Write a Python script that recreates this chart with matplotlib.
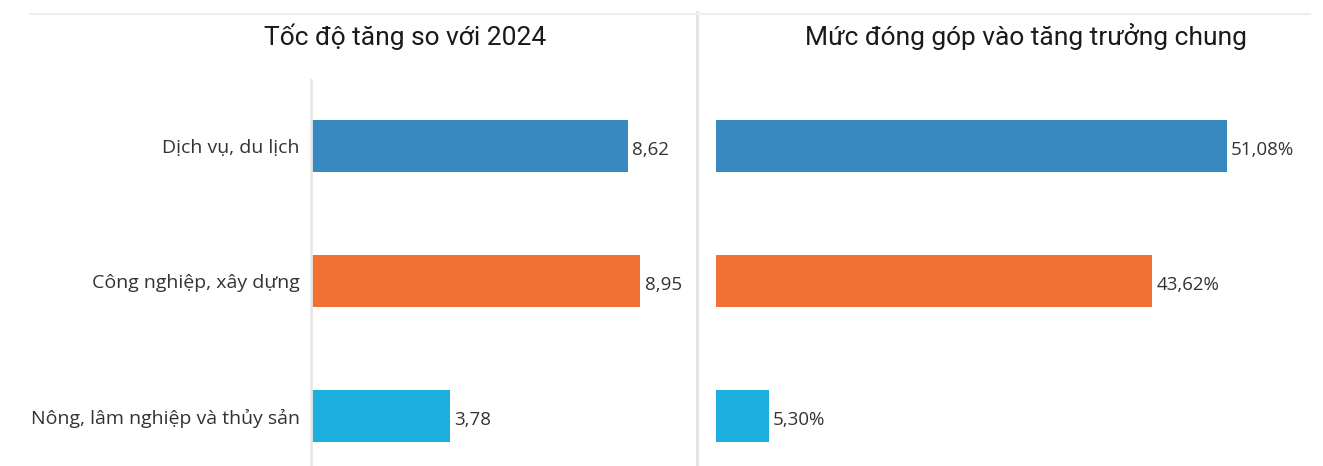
import matplotlib
matplotlib.use("Agg")
import matplotlib.pyplot as plt
from matplotlib.lines import Line2D

categories = ["Dịch vụ, du lịch", "Công nghiệp, xây dựng", "Nông, lâm nghiệp và thủy sản"]
growth = [8.62, 8.95, 3.78]
growth_labels = ["8,62", "8,95", "3,78"]
contrib = [51.08, 43.62, 5.30]
contrib_labels = ["51,08%", "43,62%", "5,30%"]
colors = ["#3789c0", "#f07132", "#1daee0"]
title_left = "Tốc độ tăng so với 2024"
title_right = "Mức đóng góp vào tăng trưởng chung"

W, H = 1323, 466
fig = plt.figure(figsize=(W / 100, H / 100), dpi=100)
fig.patch.set_facecolor("white")

def px_axes(x0, y0, x1, y1):
    return fig.add_axes([x0 / W, 1 - y1 / H, (x1 - x0) / W, (y1 - y0) / H])

label_font = "Open Sans"
title_font = "Roboto"
ylim = (2 + (466 - 416) / 135, -(146 - 80) / 135)

axL = px_axes(311, 80, 679, 466)
axR = px_axes(716, 80, 1316, 466)

ypos = list(range(len(categories)))
for ax, vals, labs, xmax in [(axL, growth, growth_labels, 10), (axR, contrib, contrib_labels, 60)]:
    ax.barh(ypos, vals, height=0.38, color=colors)
    ax.set_xlim(0, xmax)
    ax.set_ylim(*ylim)
    for y, v, t in zip(ypos, vals, labs):
        ax.annotate(t, (v, y), xytext=(3, -3), textcoords="offset points",
                    va="center", ha="left", fontsize=13.5, color="#333333",
                    family=label_font)
    ax.set_xticks([])
    for s in ["top", "right", "bottom"]:
        ax.spines[s].set_visible(False)
    ax.set_facecolor("none")

axL.spines["left"].set_color("#e8e8e8")
axL.spines["left"].set_linewidth(2)
axL.set_yticks(ypos)
axL.set_yticklabels(categories, fontsize=14, color="#333333", family=label_font)
axL.tick_params(axis="y", length=0, pad=8)

axR.spines["left"].set_visible(False)
axR.set_yticks([])

fig.text(405 / W, 1 - 37 / H, title_left, ha="center", va="center",
         fontsize=19, color="#1a1a1a", family=title_font)
fig.text(1026 / W, 1 - 37 / H, title_right, ha="center", va="center",
         fontsize=19, color="#1a1a1a", family=title_font)

fig.add_artist(Line2D([697 / W, 697 / W], [0, 1 - 12 / H], color="#e2e2e2", lw=2,
                      transform=fig.transFigure))
fig.add_artist(Line2D([30 / W, 1310 / W], [1 - 14 / H, 1 - 14 / H], color="#eeeeee", lw=1.5,
                      transform=fig.transFigure))

fig.savefig("out.png", dpi=100, facecolor="white")
